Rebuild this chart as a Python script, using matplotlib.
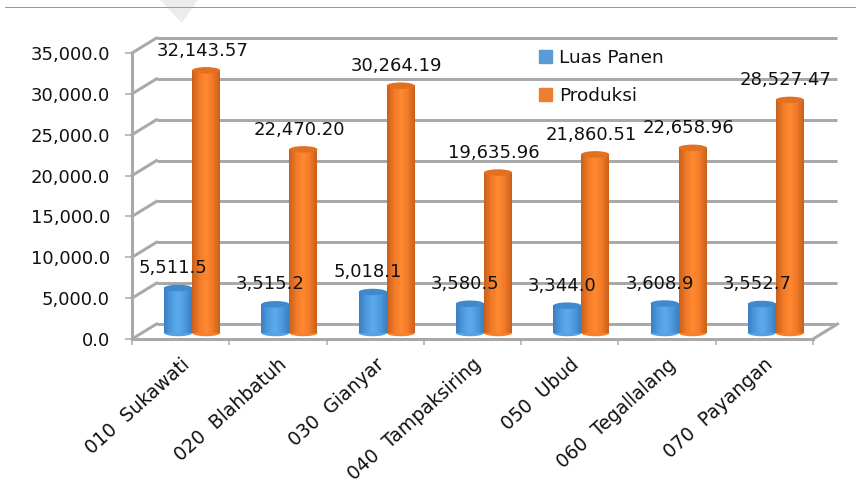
import numpy as np
import matplotlib
matplotlib.use("Agg")
import matplotlib.pyplot as plt
from matplotlib.patches import Ellipse, Patch, Polygon
from matplotlib.lines import Line2D

categories = ["010  Sukawati", "020  Blahbatuh", "030  Gianyar", "040  Tampaksiring",
              "050  Ubud", "060  Tegallalang", "070  Payangan"]
luas_panen = [5511.5, 3515.2, 5018.1, 3580.5, 3344.0, 3608.9, 3552.7]
produksi = [32143.57, 22470.20, 30264.19, 19635.96, 21860.51, 22658.96, 28527.47]
yticks = [0, 5000, 10000, 15000, 20000, 25000, 30000, 35000]

W, H = 856, 496
L, R, T, B = 132, 813, 53, 339
plt.rcParams['font.family'] = ['DejaVu Sans']
fig = plt.figure(figsize=(W / 100, H / 100), dpi=100)
ax = fig.add_axes([L / W, 1 - B / H, (R - L) / W, (B - T) / H])
ax.set_xlim(0, 7)
ax.set_ylim(0, 35000)
ppx = 7 / (R - L)          # category units per pixel
ppy = 35000 / (B - T)      # value units per pixel
px = 0.72                  # points per pixel

GRID = "#a9a9a9"
depth_x, depth_y = 24.5 * ppx, 15 * ppy

# 3-D wall: back gridlines, side-wall lines, floor
for v in yticks:
    ax.plot([depth_x, 7 + depth_x], [v + depth_y] * 2, color=GRID, lw=3 * px, clip_on=False, zorder=1, solid_capstyle='butt')
    ax.plot([0, depth_x], [v, v + depth_y], color=GRID, lw=3 * px, clip_on=False, zorder=1)
ax.plot([7, 7 + depth_x], [0, depth_y], color=GRID, lw=3 * px, clip_on=False, zorder=1)

# bars
width = 28 * ppx
base = 6 * ppy
shift = 11.5 * ppx
ell_h = 6.5 * ppy
cmap_b = matplotlib.colors.LinearSegmentedColormap.from_list("b", ["#3a7fc2", "#4f9ade", "#5cabee", "#4f9ade", "#3a7fc2"])
cmap_o = matplotlib.colors.LinearSegmentedColormap.from_list("o", ["#c9601a", "#f07a28", "#ff8a30", "#f07a28", "#c9601a"])
grad = np.linspace(0, 1, 64)[None, :]

def cylinder(xc, value, cmap, top_col, z):
    x0, x1 = xc - width / 2, xc + width / 2
    ax.add_patch(Ellipse((xc, base), width, ell_h, color=cmap(0.35), zorder=z, clip_on=False, lw=0))
    ax.imshow(grad, cmap=cmap, extent=[x0, x1, base, base + value], aspect='auto', zorder=z + 0.1,
              clip_on=False, vmin=0, vmax=1)
    ax.add_patch(Ellipse((xc, base + value), width, ell_h, color=top_col, zorder=z + 0.2, clip_on=False, lw=0))

for i, (a, b) in enumerate(zip(luas_panen, produksi)):
    c = i + 0.5 + shift
    cylinder(c - width / 2, a, cmap_b, "#3f8ace", 3)
    cylinder(c + width / 2, b, cmap_o, "#e2701f", 4)
    ax.annotate(f"{a:,.1f}", (c - width / 2, base + a), xytext=(-5, 20), textcoords='offset pixels',
                ha='center', va='center', fontsize=13, color='#111111', zorder=6, annotation_clip=False)
    ax.annotate(f"{b:,.2f}", (c + width / 2, base + b), xytext=(-4, 19.5), textcoords='offset pixels',
                ha='center', va='center', fontsize=13, color='#111111', zorder=6, annotation_clip=False)

ax.set_xlim(0, 7)
ax.set_ylim(0, 35000)
ax.set_aspect('auto')

# axes
for s in ('top', 'right'):
    ax.spines[s].set_visible(False)
for s in ('left', 'bottom'):
    ax.spines[s].set_color(GRID)
    ax.spines[s].set_linewidth(3 * px)
    ax.spines[s].set_zorder(2)
ax.set_yticks(yticks)
ax.set_yticklabels([f"{v:,.1f}" for v in yticks], fontsize=13, color='#111111')
ax.tick_params(axis='y', length=7 * px, width=1.5 * px, color=GRID, pad=15 * px)
ax.set_xticks(np.arange(8))
ax.set_xticklabels([])
ax.tick_params(axis='x', which='major', length=6 * px, width=1.5 * px, color=GRID)
ax.set_xticks(np.arange(7) + 0.5, minor=True)
ax.set_xticklabels(categories, minor=True, rotation=42, ha='right', va='top', rotation_mode='anchor',
                   fontsize=13.5, color='#111111')
ax.tick_params(axis='x', which='minor', length=0, pad=16 * px)

# legend
handles = [Patch(color="#5b9bd5", label="Luas Panen"), Patch(color="#ed7d31", label="Produksi")]
fig.legend(handles=handles, loc='upper left', bbox_to_anchor=(533 / W, 1 - 43.5 / H), frameon=False, fontsize=13.3,
           handlelength=0.72, handleheight=0.72, handletextpad=0.4, labelspacing=1.1, borderpad=0.3, borderaxespad=0,
           labelcolor='#111111')

# page rule and watermark fragment
fig.add_artist(Line2D([5 / W, 1], [1 - 6.5 / H] * 2, color="#9a9a9a", lw=1 * px))
fig.add_artist(Polygon([[160 / W, 1], [198 / W, 1], [182 / W, 1 - 23 / H]], closed=True, color="#ececec", lw=0, zorder=-1))

fig.savefig("out.png", dpi=100)
